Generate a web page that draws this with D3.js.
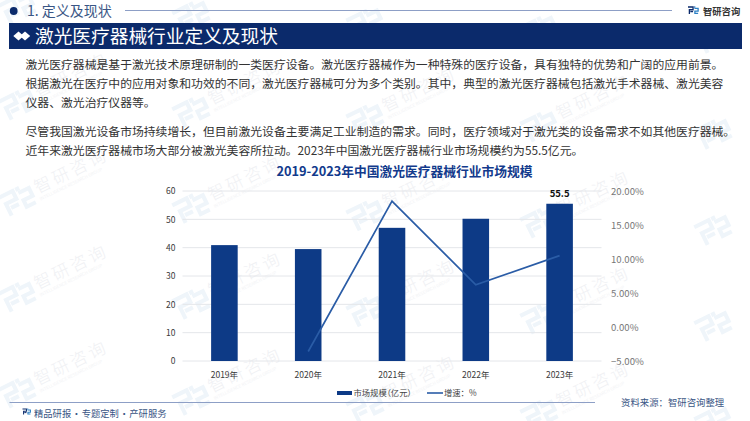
<!DOCTYPE html>
<html>
<head>
<meta charset="utf-8">
<script src="https://cdn.jsdelivr.net/npm/d3@7"></script>
<style>
  html, body { margin: 0; padding: 0; background: #fff; }
  text { font-family: "Noto Sans CJK SC", "Noto Sans", sans-serif; }
</style>
</head>
<body>
<div id="chart"></div>
<script>
const years = ['2019年', '2020年', '2021年', '2022年', '2023年']
const marketSize = [40.9, 39.5, 47, 50.2, 55.5]
const growthYears = ['2020年', '2021年', '2022年', '2023年']
const growthRate = [-3.6, 18.5, 6.2, 10.5]
const sizeTicks = [0, 10, 20, 30, 40, 50, 60]
const rateTicks = [-5, 0, 5, 10, 15, 20]

const paragraphOne = [
  '激光医疗器械是基于激光技术原理研制的一类医疗设备。激光医疗器械作为一种特殊的医疗设备，具有独特的优势和广阔的应用前景。',
  '根据激光在医疗中的应用对象和功效的不同，激光医疗器械可分为多个类别。其中，典型的激光医疗器械包括激光手术器械、激光美容',
  '仪器、激光治疗仪器等。'
]
const paragraphTwo = [
  '尽管我国激光设备市场持续增长，但目前激光设备主要满足工业制造的需求。同时，医疗领域对于激光类的设备需求不如其他医疗器械。',
  '近年来激光医疗器械市场大部分被激光美容所拉动。2023年中国激光医疗器械行业市场规模约为55.5亿元。'
]
const wmChars = ['智', '研', '咨', '询']

const width = 750
const height = 421
const navy = '#0b2a6b'
const barBlue = '#0d3a86'
const lineBlue = '#2a5ca6'

const svg = d3.select('#chart')
  .append('svg')
  .attr('width', width)
  .attr('height', height)
  .style('display', 'block')

// Logo mark, left part and right part take their own colour
function logo(parent, x, y, s, colorA, colorB) {
  const g = parent.append('g')
    .attr('transform', `translate(${x},${y}) scale(${s})`)
    .attr('fill', 'none')
    .attr('stroke-width', 2.8)
  g.append('path').attr('d', 'M0 0H11V6H3V15').attr('stroke', colorA)
  g.append('path').attr('d', 'M5 10H11').attr('stroke', colorA)
  g.append('path').attr('d', 'M14 3H22V9H15V14H22').attr('stroke', colorB)
  g.append('rect').attr('x', 13).attr('y', -1.4).attr('width', 3).attr('height', 3)
    .attr('fill', colorB)
}

// Watermark tiles, text only where it stays inside the picture
const wmAngle = -26
const wmCos = Math.cos(wmAngle * Math.PI / 180)
const wmSin = Math.sin(wmAngle * Math.PI / 180)
const wmLayer = svg.append('g')

function isInside(ox, oy, a, b, margin) {
  const gx = ox + a * wmCos - b * wmSin
  const gy = oy + a * wmSin + b * wmCos
  return gx > margin && gx < width - margin && gy > margin && gy < height - margin
}

d3.range(-2, 3).forEach((row) => {
  d3.range(0, 5).forEach((col) => {
    const ox = 17 + col * 174
    const oy = 200 + row * 96 + col * 7.3
    const tile = wmLayer.append('g')
      .attr('transform', `translate(${ox},${oy}) rotate(${wmAngle})`)
    logo(tile, -16, -10, 1.45, '#eff5fa', '#eff5fa')
    wmChars.forEach((ch, i) => {
      const cx = 30 + i * 20
      if (!isInside(ox, oy, cx, -3, 15)) return
      tile.append('text')
        .attr('x', cx)
        .attr('y', 3.5)
        .attr('text-anchor', 'middle')
        .attr('font-size', 17)
        .attr('font-weight', 300)
        .attr('fill', '#f0f1f4')
        .text(ch)
    })
    if (isInside(ox, oy, 21, 11, 3) && isInside(ox, oy, 97, 11, 3)) {
      tile.append('text')
        .attr('x', 21)
        .attr('y', 11)
        .attr('font-size', 4.4)
        .attr('fill', '#f3f4f6')
        .text('INTELLIGENCE RESEARCH GROUP')
    }
  })
})

// Top section row
svg.append('circle').attr('cx', 13.7).attr('cy', 11).attr('r', 3.9).attr('fill', navy)
svg.append('text')
  .attr('x', 27).attr('y', 16)
  .attr('font-size', 14).attr('fill', '#3a5685')
  .text('1. 定义及现状')
svg.append('line')
  .attr('x1', 125).attr('x2', 672).attr('y1', 10.5).attr('y2', 10.5)
  .attr('stroke', '#8d9fc6').attr('stroke-width', 1.2)

// Brand top right
logo(svg, 688, 7, 0.46, navy, '#2a7fc4')
svg.append('text')
  .attr('x', 703).attr('y', 14.5)
  .attr('font-size', 9.3).attr('font-weight', 700).attr('fill', '#333')
  .text('智研咨询')

// Title banner
svg.append('rect')
  .attr('x', 9).attr('y', 23).attr('width', 733).attr('height', 26)
  .attr('fill', navy)
svg.selectAll('path.diamond')
  .data([18.5, 25])
  .join('path')
  .attr('class', 'diamond')
  .attr('d', (d) => `M${d - 5.2} 36L${d} 31.5L${d + 5.2} 36L${d} 40.5Z`)
  .attr('fill', '#fff')
svg.append('text')
  .attr('x', 35).attr('y', 43)
  .attr('font-size', 18.7).attr('fill', '#fff')
  .text('激光医疗器械行业定义及现状')

// Body text
function drawLines(lines, top) {
  svg.append('g').selectAll('text')
    .data(lines)
    .join('text')
    .attr('x', 25.5)
    .attr('y', (d, i) => top + i * 19.2)
    .attr('font-size', 11.83)
    .attr('fill', '#333')
    .text((d) => d)
}
drawLines(paragraphOne, 69)
drawLines(paragraphTwo, 136)

// Chart title
svg.append('text')
  .attr('x', 404.5).attr('y', 175.5)
  .attr('text-anchor', 'middle')
  .attr('font-size', 12.75).attr('font-weight', 700).attr('fill', '#123a8c')
  .text('2019-2023年中国激光医疗器械行业市场规模')

// Scales
const x = d3.scaleBand()
  .domain(years)
  .range([182.5, 601.5])
  .paddingInner(0.683)
  .paddingOuter(0.3415)
const ySize = d3.scaleLinear().domain([0, 60]).range([361, 191])
const yRate = d3.scaleLinear().domain([-5, 20]).range([361, 191])

// Gridlines
svg.append('g').selectAll('line')
  .data(sizeTicks)
  .join('line')
  .attr('x1', 182.5).attr('x2', 601.5)
  .attr('y1', (d) => ySize(d)).attr('y2', (d) => ySize(d))
  .attr('stroke', '#e4e6ea').attr('stroke-width', 1)

// Bars
svg.append('g').selectAll('rect')
  .data(years)
  .join('rect')
  .attr('x', (d) => x(d))
  .attr('width', x.bandwidth())
  .attr('y', (d, i) => ySize(marketSize[i]))
  .attr('height', (d, i) => ySize(0) - ySize(marketSize[i]))
  .attr('fill', barBlue)

// Growth line
const line = d3.line()
  .x((d, i) => x(growthYears[i]) + x.bandwidth() / 2)
  .y((d) => yRate(d))
svg.append('path')
  .datum(growthRate)
  .attr('d', line)
  .attr('fill', 'none')
  .attr('stroke', lineBlue)
  .attr('stroke-width', 1.7)

// Last value label
svg.append('text')
  .attr('x', x('2023年') + x.bandwidth() / 2)
  .attr('y', ySize(55.5) - 7)
  .attr('text-anchor', 'middle')
  .attr('font-size', 9.5).attr('font-weight', 700).attr('fill', '#111')
  .text(marketSize[4])

// Axes
const axisLeft = d3.axisLeft(ySize).tickValues(sizeTicks).tickSize(0).tickPadding(7)
const axisRight = d3.axisRight(yRate)
  .tickValues(rateTicks)
  .tickSize(0)
  .tickPadding(0)
  .tickFormat((d) => d3.format('.2f')(d) + '%')
const axisBottom = d3.axisBottom(x).tickSize(0).tickPadding(11)

const leftG = svg.append('g').attr('transform', 'translate(182.5,0)').call(axisLeft)
const rightG = svg.append('g').attr('transform', 'translate(611,0)').call(axisRight)
const bottomG = svg.append('g').attr('transform', 'translate(0,361)').call(axisBottom)
;[leftG, rightG, bottomG].forEach((g) => {
  g.select('.domain').remove()
  g.selectAll('text').attr('fill', '#3a3a3a').style('font-size', '8.5px')
})
rightG.selectAll('text').attr('fill', '#777').style('font-size', '9.6px')

// Legend
svg.append('rect').attr('x', 337).attr('y', 391).attr('width', 15).attr('height', 4).attr('fill', barBlue)
svg.append('text')
  .attr('x', 353.5).attr('y', 396.2)
  .attr('font-size', 8.3).attr('fill', '#444')
  .style('font-feature-settings', '"palt"')
  .text('市场规模（亿元）')
svg.append('line')
  .attr('x1', 427).attr('x2', 443).attr('y1', 393).attr('y2', 393)
  .attr('stroke', lineBlue).attr('stroke-width', 1.6)
svg.append('text')
  .attr('x', 444).attr('y', 396.2)
  .attr('font-size', 8.3).attr('fill', '#444')
  .text('增速：%')

// Footer
svg.append('line')
  .attr('x1', 9.5).attr('x2', 595).attr('y1', 402.5).attr('y2', 402.5)
  .attr('stroke', '#8d9fc6').attr('stroke-width', 1.2)
logo(svg, 22.5, 409, 0.36, navy, '#2a7fc4')
svg.append('text')
  .attr('x', 34).attr('y', 416.5)
  .attr('font-size', 9.3).attr('fill', '#3a5685')
  .style('word-spacing', '-1.5px')
  .text('精品研报 · 专题定制 · 产研服务')
svg.append('text')
  .attr('x', 621).attr('y', 405.5)
  .attr('font-size', 9.4).attr('fill', '#3a5685')
  .text('资料来源：智研咨询整理')
</script>
</body>
</html>
